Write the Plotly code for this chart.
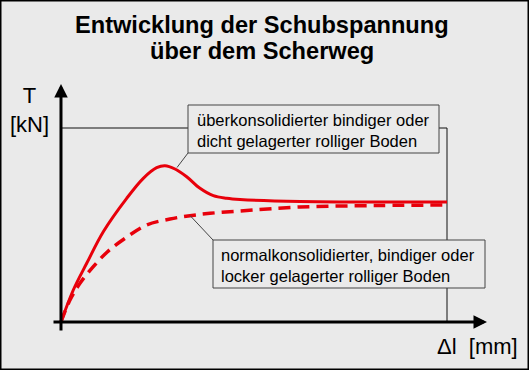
import plotly.graph_objects as go

# ---- data (shear displacement Δl [mm], shear stress τ [kN]) ----
delta_l_over = [0, 0.319, 0.666, 1.096, 1.702, 2.132, 2.479, 2.694, 2.953, 3.256, 3.601, 3.946, 4.293, 4.637, 6.192, 10.0]
tau_over     = [0, 1.649, 3.026, 4.655, 6.376, 7.407, 7.954, 8.057, 7.887, 7.490, 6.892, 6.510, 6.376, 6.314, 6.211, 6.186]

delta_l_normal = [0, 0.233, 0.492, 0.837, 1.205, 1.658, 2.220, 2.824, 3.342, 3.860, 4.637, 6.192, 8.264, 10.0]
tau_normal     = [0, 1.134, 1.995, 2.851, 3.624, 4.314, 5.0, 5.309, 5.479, 5.603, 5.722, 5.928, 6.005, 6.031]

title_lines = ["Entwicklung der Schubspannung", "über dem Scherweg"]
label_over = "überkonsolidierter bindiger oder<br>dicht gelagerter rolliger Boden"
label_normal = "normalkonsolidierter, bindiger oder<br>locker gelagerter rolliger Boden"
y_label = "T<br>[kN]"
x_label = "Δl  [mm]"

# ---- layout geometry ----
W, H = 529, 370
X0, X1 = -1.580, 12.124
Y0, Y1 = -2.474, 16.598
def fx(px):
    return X0 + px / W * (X1 - X0)
def fy(py):
    return Y1 - py / H * (Y1 - Y0)

BG = "#eaeaea"
RED = "#e8000b"
FONT = "Liberation Sans, Arial, sans-serif"

fig = go.Figure()
fig.add_trace(go.Scatter(x=delta_l_normal, y=tau_normal, mode="lines",
                         line=dict(color=RED, width=3.5, dash="12px,7px", shape="spline", smoothing=1.0),
                         hoverinfo="skip", showlegend=False))
fig.add_trace(go.Scatter(x=delta_l_over, y=tau_over, mode="lines",
                         line=dict(color=RED, width=3, shape="spline", smoothing=1.0),
                         hoverinfo="skip", showlegend=False))

shapes = []
# thin reference lines
shapes.append(dict(type="line", x0=0, x1=10, y0=10, y1=10, line=dict(color="#111", width=1), layer="below"))
shapes.append(dict(type="line", x0=10, x1=10, y0=0, y1=10, line=dict(color="#111", width=1), layer="below"))
# connectors
shapes.append(dict(type="line", x0=fx(188), y0=fy(153), x1=fx(177), y1=fy(167.5), line=dict(color="#444", width=1)))
shapes.append(dict(type="line", x0=fx(190), y0=fy(215.5), x1=fx(213), y1=fy(240), line=dict(color="#444", width=1)))
# boxes
shapes.append(dict(type="rect", x0=fx(188), y0=fy(105), x1=fx(439), y1=fy(153),
                   line=dict(color="#444", width=1), fillcolor=BG))
shapes.append(dict(type="rect", x0=fx(213), y0=fy(240), x1=fx(485), y1=fy(288),
                   line=dict(color="#444", width=1), fillcolor=BG))
# frame
shapes.append(dict(type="rect", xref="paper", yref="paper", x0=0, x1=1, y0=0, y1=1,
                   line=dict(color="#000", width=3)))

annotations = []
# axes arrows
annotations.append(dict(x=fx(487), y=0, ax=fx(52), ay=0, xref="x", yref="y", axref="x", ayref="y",
                        text="", showarrow=True, arrowhead=2, arrowsize=0.9, arrowwidth=3, arrowcolor="#000"))
annotations.append(dict(x=0, y=fy(84), ax=0, ay=fy(332), xref="x", yref="y", axref="x", ayref="y",
                        text="", showarrow=True, arrowhead=2, arrowsize=0.9, arrowwidth=3, arrowcolor="#000"))
# title
annotations.append(dict(x=fx(262), y=fy(25), text="<b>%s</b>" % title_lines[0], showarrow=False,
                        xanchor="center", yanchor="middle", font=dict(family=FONT, size=23.6, color="#000")))
annotations.append(dict(x=fx(262), y=fy(51), text="<b>%s</b>" % title_lines[1], showarrow=False,
                        xanchor="center", yanchor="middle", font=dict(family=FONT, size=23.6, color="#000")))
# box labels
annotations.append(dict(x=fx(195), y=fy(130), text=label_over, showarrow=False, align="left",
                        xanchor="left", yanchor="middle", font=dict(family=FONT, size=16.5, color="#000")))
annotations.append(dict(x=fx(219), y=fy(265), text=label_normal, showarrow=False, align="left",
                        xanchor="left", yanchor="middle", font=dict(family=FONT, size=16.5, color="#000")))
# axis labels
annotations.append(dict(x=fx(29.5), y=fy(110), text=y_label, showarrow=False, align="center",
                        xanchor="center", yanchor="middle", font=dict(family=FONT, size=22, color="#000")))
annotations.append(dict(x=fx(477), y=fy(346), text=x_label, showarrow=False,
                        xanchor="center", yanchor="middle", font=dict(family=FONT, size=22, color="#000")))

fig.update_layout(
    width=W, height=H, margin=dict(l=0, r=0, t=0, b=0),
    paper_bgcolor=BG, plot_bgcolor=BG,
    xaxis=dict(range=[X0, X1], visible=False, fixedrange=True),
    yaxis=dict(range=[Y0, Y1], visible=False, fixedrange=True),
    shapes=shapes, annotations=annotations, showlegend=False,
)
fig.write_html("out.html", config={"displayModeBar": False},
               post_script="document.body.style.margin='0px';document.body.style.overflow='hidden';")
